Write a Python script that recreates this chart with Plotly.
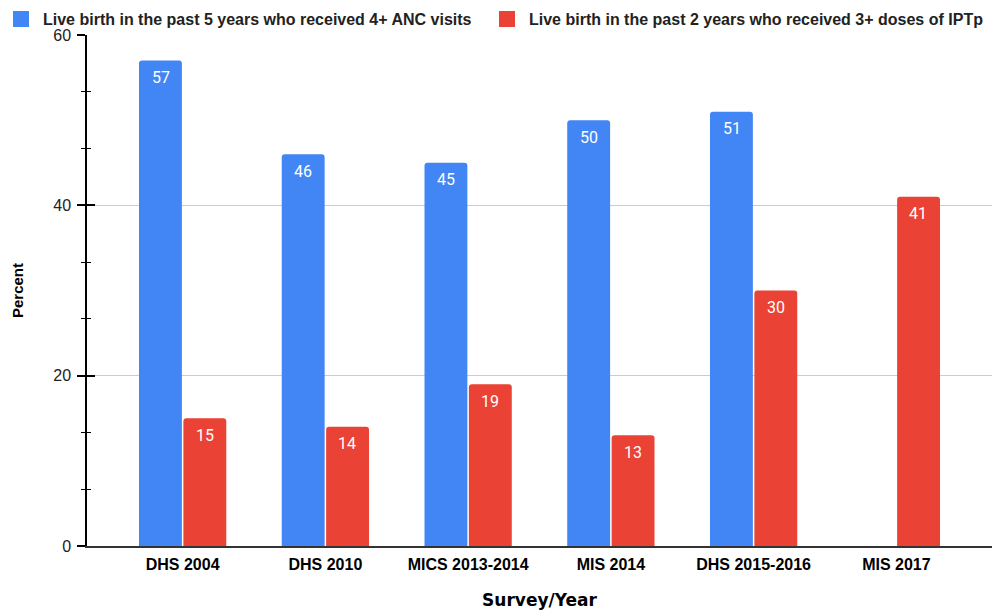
import plotly.graph_objects as go

surveys = ["DHS 2004", "DHS 2010", "MICS 2013-2014", "MIS 2014", "DHS 2015-2016", "MIS 2017"]
anc_visits = [57, 46, 45, 50, 51, None]
iptp_doses = [15, 14, 19, 13, 30, 41]

anc_name = "Live birth in the past 5 years who received 4+ ANC visits"
iptp_name = "Live birth in the past 2 years who received 3+ doses of IPTp"

BLUE = "#4285f4"
RED = "#ea4335"
TEXT = "#222222"

W, H = 992, 610
L, R, T, B = 87, 0, 35, 64

fig = go.Figure()
fig.add_trace(go.Bar(x=surveys, y=anc_visits, name=anc_name,
                     marker=dict(color=BLUE, line=dict(width=0))))
fig.add_trace(go.Bar(x=surveys, y=iptp_doses, name=iptp_name,
                     marker=dict(color=RED, line=dict(width=0))))

# value labels just inside the top of each bar
for vals, shift in ((anc_visits, -22), (iptp_doses, 22)):
    for cat, v in zip(surveys, vals):
        if v is None:
            continue
        fig.add_annotation(x=cat, y=v, text=str(v), showarrow=False,
                           xshift=shift, yshift=-17, yanchor="middle",
                           font=dict(family="Roboto", size=16, color="white"))

# legend row across the top: coloured square + bold label per series
def px_x(p):
    return (p - L) / (W - L - R)

def px_y(p):
    return 1 - (p - T) / (H - T - B)

for name, color, sq_left, text_left in ((anc_name, BLUE, 13, 41),
                                         (iptp_name, RED, 499, 527)):
    fig.add_shape(type="rect", xref="paper", yref="paper",
                  x0=px_x(sq_left), x1=px_x(sq_left + 16),
                  y0=px_y(27), y1=px_y(11),
                  fillcolor=color, line=dict(width=0))
    fig.add_annotation(xref="paper", yref="paper", x=px_x(text_left), y=px_y(19),
                       text=name, showarrow=False, xanchor="left", yanchor="middle",
                       font=dict(family="Liberation Sans, Arial", size=16,
                                 color=TEXT, weight="bold"))

fig.update_layout(
    width=W, height=H,
    margin=dict(l=L, r=R, t=T, b=B, autoexpand=False),
    paper_bgcolor="white", plot_bgcolor="white",
    barmode="group", bargap=0.378, bargroupgap=0.034, barcornerradius=3,
    font=dict(family="Liberation Sans, Arial", color=TEXT),
    showlegend=False,
    xaxis=dict(
        type="category", range=[-0.67, 5.67],
        showline=True, linecolor="#333333", linewidth=1.5,
        ticks="", showgrid=False, ticklabelstandoff=3,
        tickfont=dict(size=16, color="black", weight="bold"),
        title=dict(text="Survey/Year", standoff=26,
                   font=dict(family="DejaVu Sans", size=17, color="black",
                             weight="bold")),
    ),
    yaxis=dict(
        range=[0, 60], tick0=0, dtick=20,
        showline=True, linecolor="black", linewidth=1.5,
        ticks="outside", ticklen=8, tickwidth=1.5, tickcolor="black",
        showgrid=True, gridcolor="#cccccc", gridwidth=1,
        zeroline=False, ticklabelstandoff=3,
        tickfont=dict(size=16, color=TEXT),
        minor=dict(tick0=0, dtick=20 / 3, ticks="outside", ticklen=4,
                   tickwidth=1.2, tickcolor="black", showgrid=False),
        title=dict(text="Percent", standoff=26,
                   font=dict(size=15, color="black", weight="bold")),
    ),
    # overlaid axis supplying the inner half of the crossing ticks
    yaxis2=dict(
        overlaying="y", side="left", range=[0, 60], tick0=0, dtick=20,
        ticks="inside", ticklen=8, tickwidth=1.5, tickcolor="black",
        showticklabels=False, showgrid=False, showline=False, zeroline=False,
        minor=dict(tick0=0, dtick=20 / 3, ticks="inside", ticklen=4,
                   tickwidth=1.2, tickcolor="black"),
    ),
)

# invisible trace to bring the overlay axis to life
fig.add_trace(go.Scatter(x=[surveys[0]], y=[0], yaxis="y2", mode="markers",
                         marker=dict(opacity=0), showlegend=False,
                         hoverinfo="skip"))

fig.write_html("out.html")
